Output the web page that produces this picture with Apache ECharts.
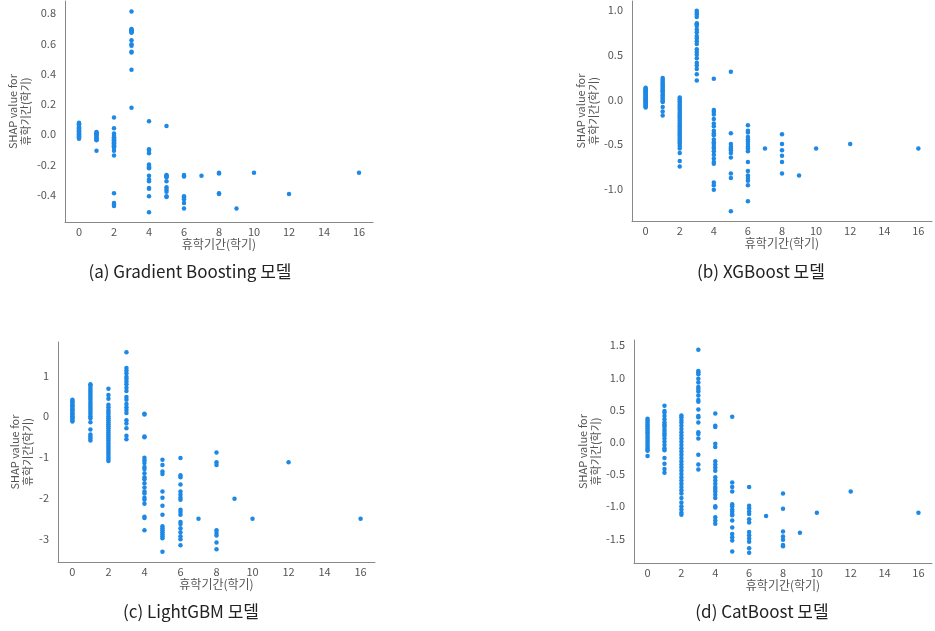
<!DOCTYPE html>
<html>
<head>
<meta charset="utf-8">
<script src="https://cdn.jsdelivr.net/npm/echarts@6/dist/echarts.min.js"></script>
<style>
html, body { margin: 0; padding: 0; background: #fff; }
#chart { width: 935px; height: 631px; }
</style>
</head>
<body>
<div id="chart"></div>
<script>
// 휴학기간(학기) 값 — 각 모델 배열의 순서와 동일
const xValues = [0, 1, 2, 3, 4, 5, 6, 7, 8, 9, 10, 12, 16];
const xTicks = [0, 2, 4, 6, 8, 10, 12, 14, 16];

// (a) Gradient Boosting
const gbShap = [
    [0.075, 0.07, 0.065, 0.06, 0.05, 0.045, 0.04, 0.035, 0.03, 0.025, 0.02, 0.015, 0.01, 0.005, 0.0, -0.005, -0.01, -0.015, -0.02, -0.025, -0.03],
    [0.015, 0.01, 0.005, 0.0, -0.005, -0.01, -0.02, -0.03, -0.035, -0.04, -0.11],
    [0.11, 0.04, 0.005, -0.01, -0.02, -0.025, -0.03, -0.035, -0.04, -0.045, -0.05, -0.055, -0.06, -0.065, -0.07, -0.075, -0.08, -0.085, -0.09, -0.11, -0.14, -0.39, -0.455, -0.465, -0.475],
    [0.81, 0.695, 0.69, 0.685, 0.68, 0.675, 0.67, 0.62, 0.595, 0.585, 0.545, 0.54, 0.425, 0.175],
    [0.085, -0.1, -0.11, -0.125, -0.2, -0.21, -0.215, -0.22, -0.225, -0.275, -0.3, -0.31, -0.355, -0.36, -0.41, -0.515],
    [0.055, -0.27, -0.275, -0.28, -0.285, -0.31, -0.35, -0.365, -0.38, -0.41, -0.415],
    [-0.27, -0.275, -0.28, -0.41, -0.42, -0.43, -0.455, -0.49],
    [-0.275],
    [-0.255, -0.26, -0.39, -0.395],
    [-0.49],
    [-0.255],
    [-0.395],
    [-0.255]
];
const gbTicks = [-0.4, -0.2, 0.0, 0.2, 0.4, 0.6, 0.8];

// (b) XGBoost
const xgbShap = [
    [0.13, 0.12, 0.11, 0.1, 0.09, 0.08, 0.07, 0.06, 0.05, 0.04, 0.03, 0.02, 0.01, 0.0, -0.01, -0.02, -0.03, -0.04, -0.05, -0.06, -0.07, -0.08, -0.09],
    [0.24, 0.22, 0.2, 0.18, 0.16, 0.15, 0.13, 0.12, 0.1, 0.09, 0.07, 0.05, 0.04, 0.02, 0.0, -0.02, -0.03, -0.085, -0.135, -0.18],
    [0.02, 0.0, -0.02, -0.04, -0.06, -0.08, -0.1, -0.12, -0.14, -0.16, -0.18, -0.2, -0.22, -0.24, -0.26, -0.28, -0.3, -0.32, -0.34, -0.36, -0.38, -0.4, -0.42, -0.44, -0.46, -0.48, -0.5, -0.52, -0.55, -0.6, -0.69, -0.75],
    [0.99, 0.97, 0.95, 0.92, 0.85, 0.84, 0.82, 0.78, 0.75, 0.71, 0.68, 0.65, 0.62, 0.56, 0.53, 0.5, 0.46, 0.41, 0.38, 0.34, 0.28, 0.21],
    [0.23, -0.12, -0.14, -0.17, -0.22, -0.27, -0.3, -0.35, -0.38, -0.4, -0.45, -0.48, -0.5, -0.53, -0.55, -0.58, -0.62, -0.66, -0.7, -0.72, -0.93, -0.96, -1.01],
    [0.31, -0.38, -0.5, -0.53, -0.55, -0.57, -0.6, -0.65, -0.83, -0.88, -1.25],
    [-0.29, -0.35, -0.37, -0.42, -0.45, -0.47, -0.5, -0.53, -0.55, -0.58, -0.7, -0.8, -0.85, -0.88, -0.91, -0.96, -1.14],
    [-0.55],
    [-0.39, -0.5, -0.57, -0.63, -0.7, -0.83],
    [-0.85],
    [-0.55],
    [-0.5],
    [-0.55]
];
const xgbTicks = [-1.0, -0.5, 0.0, 0.5, 1.0];

// (c) LightGBM
const lgbmShap = [
    [0.4, 0.37, 0.34, 0.3, 0.27, 0.24, 0.2, 0.17, 0.14, 0.1, 0.07, 0.04, 0.0, -0.03, -0.06, -0.1, -0.13],
    [0.78, 0.75, 0.7, 0.65, 0.6, 0.55, 0.5, 0.45, 0.4, 0.35, 0.3, 0.25, 0.2, 0.15, 0.1, 0.05, 0.0, -0.05, -0.15, -0.33, -0.45, -0.5, -0.55, -0.6],
    [0.67, 0.52, 0.43, 0.28, 0.22, 0.15, 0.1, 0.05, 0.0, -0.05, -0.1, -0.15, -0.2, -0.25, -0.3, -0.35, -0.4, -0.45, -0.5, -0.55, -0.6, -0.65, -0.7, -0.75, -0.8, -0.85, -0.9, -0.95, -1.0, -1.05, -1.1],
    [1.57, 1.18, 1.12, 1.05, 0.97, 0.92, 0.85, 0.78, 0.7, 0.62, 0.47, 0.4, 0.3, 0.22, 0.15, 0.08, -0.1, -0.18, -0.3, -0.48, -0.57],
    [0.06, 0.04, -0.5, -0.52, -1.02, -1.08, -1.15, -1.25, -1.3, -1.4, -1.5, -1.55, -1.65, -1.75, -1.85, -1.9, -2.0, -2.05, -2.15, -2.47, -2.5, -2.8],
    [-1.07, -1.2, -1.36, -1.42, -1.85, -2.0, -2.2, -2.42, -2.7, -2.75, -2.8, -2.85, -2.9, -2.95, -3.0, -3.33],
    [-1.03, -1.45, -1.5, -1.68, -1.85, -1.93, -2.0, -2.05, -2.3, -2.35, -2.42, -2.6, -2.65, -2.75, -2.85, -2.95, -3.02, -3.17],
    [-2.52],
    [-0.89, -1.13, -1.2, -2.8, -2.87, -2.93, -3.1, -3.27],
    [-2.03],
    [-2.52],
    [-1.13],
    [-2.52]
];
const lgbmTicks = [-3, -2, -1, 0, 1];

// (d) CatBoost
const catShap = [
    [0.36, 0.33, 0.3, 0.27, 0.24, 0.21, 0.18, 0.15, 0.12, 0.09, 0.06, 0.03, 0.0, -0.03, -0.06, -0.09, -0.12, -0.14, -0.22],
    [0.56, 0.48, 0.45, 0.4, 0.35, 0.3, 0.27, 0.24, 0.2, 0.17, 0.13, 0.1, 0.05, 0.0, -0.05, -0.1, -0.13, -0.25, -0.34, -0.42, -0.48],
    [0.41, 0.38, 0.34, 0.3, 0.25, 0.2, 0.15, 0.1, 0.05, 0.0, -0.05, -0.1, -0.15, -0.2, -0.25, -0.3, -0.35, -0.4, -0.45, -0.5, -0.55, -0.6, -0.65, -0.7, -0.75, -0.8, -0.87, -0.94, -1.0, -1.05, -1.1, -1.13],
    [1.43, 1.1, 1.08, 1.05, 0.98, 0.92, 0.85, 0.82, 0.78, 0.72, 0.65, 0.62, 0.5, 0.4, 0.38, 0.3, 0.15, 0.12, 0.05, -0.2, -0.35, -0.43],
    [0.44, 0.25, 0.23, -0.03, -0.08, -0.3, -0.35, -0.4, -0.45, -0.55, -0.6, -0.65, -0.7, -0.73, -0.77, -0.82, -0.87, -1.0, -1.02, -1.17, -1.22, -1.27],
    [0.39, -0.63, -0.7, -0.77, -0.97, -1.0, -1.05, -1.08, -1.12, -1.14, -1.22, -1.33, -1.43, -1.48, -1.53, -1.7],
    [-0.7, -0.99, -1.03, -1.08, -1.12, -1.2, -1.25, -1.4, -1.45, -1.5, -1.55, -1.65, -1.72],
    [-1.15],
    [-0.8, -1.04, -1.39, -1.47, -1.52, -1.6, -1.62],
    [-1.41],
    [-1.1],
    [-0.77],
    [-1.1]
];
const catTicks = [-1.5, -1.0, -0.5, 0.0, 0.5, 1.0, 1.5];

const captions = ['(a) Gradient Boosting 모델', '(b) XGBoost 모델', '(c) LightGBM 모델', '(d) CatBoost 모델'];

const panels = [
    { values: gbShap, ticks: gbTicks, digits: 1, yMin: -0.58, yMax: 0.88, grid: { left: 65, top: 1, width: 308, height: 221 }, nameGap: 33, cap: [190, 272] },
    { values: xgbShap, ticks: xgbTicks, digits: 1, yMin: -1.36, yMax: 1.1, grid: { left: 632, top: 1, width: 308, height: 220 }, nameGap: 31, cap: [761, 272] },
    { values: lgbmShap, ticks: lgbmTicks, digits: 0, yMin: -3.58, yMax: 1.82, grid: { left: 58, top: 342, width: 317, height: 220 }, nameGap: 24, cap: [191, 612] },
    { values: catShap, ticks: catTicks, digits: 1, yMin: -1.88, yMax: 1.58, grid: { left: 634, top: 340, width: 303, height: 223 }, nameGap: 30, cap: [762, 612] }
];

const axisColor = '#888';
const labelColor = '#555';
const font = "'Noto Sans CJK KR', 'Noto Sans', sans-serif";

function tickFormatter(ticks, digits) {
    return function (v) {
        const t = ticks.find(function (t) { return Math.abs(t - v) < 1e-6; });
        return t === undefined ? '' : t.toFixed(digits);
    };
}

const chart = echarts.init(document.getElementById('chart'));

const grids = [], xAxes = [], yAxes = [], series = [], graphics = [];
panels.forEach(function (p, i) {
    grids.push(p.grid);
    xAxes.push({
        type: 'value', gridIndex: i, min: -0.8, max: 16.8, interval: 0.2,
        name: '휴학기간(학기)', nameLocation: 'middle', nameGap: 16,
        nameTextStyle: { fontSize: 12, color: labelColor, fontFamily: font },
        axisLine: { show: true, onZero: false, lineStyle: { color: axisColor, width: 1 } },
        axisTick: { show: false },
        splitLine: { show: false },
        axisLabel: { margin: 4, fontSize: 11, color: labelColor, fontFamily: font, formatter: tickFormatter(xTicks, 0) }
    });
    yAxes.push({
        type: 'value', gridIndex: i, min: p.yMin, max: p.yMax, interval: 0.02,
        name: 'SHAP value for\n휴학기간(학기)', nameLocation: 'middle', nameRotate: 90, nameGap: p.nameGap,
        nameTextStyle: { fontSize: 11, lineHeight: 13, color: labelColor, fontFamily: font },
        axisLine: { show: true, onZero: false, lineStyle: { color: axisColor, width: 1 } },
        axisTick: { show: false },
        splitLine: { show: false },
        axisLabel: { margin: 9, fontSize: 11, color: labelColor, fontFamily: font, formatter: tickFormatter(p.ticks, p.digits) }
    });
    const data = [];
    xValues.forEach(function (x, k) {
        p.values[k].forEach(function (y) { data.push([x, y]); });
    });
    series.push({
        type: 'scatter', xAxisIndex: i, yAxisIndex: i, data: data,
        symbolSize: 4.5, itemStyle: { color: '#1E88E5', opacity: 1 }, silent: true
    });
    graphics.push({
        type: 'text', x: p.cap[0], y: p.cap[1],
        style: {
            text: captions[i], fill: '#222', fontSize: 17,
            fontFamily: "'Liberation Sans Narrow', 'Noto Sans CJK KR', sans-serif",
            align: 'center', verticalAlign: 'middle'
        }
    });
});

chart.setOption({
    animation: false,
    backgroundColor: '#fff',
    grid: grids,
    xAxis: xAxes,
    yAxis: yAxes,
    series: series,
    graphic: graphics
});
</script>
</body>
</html>
